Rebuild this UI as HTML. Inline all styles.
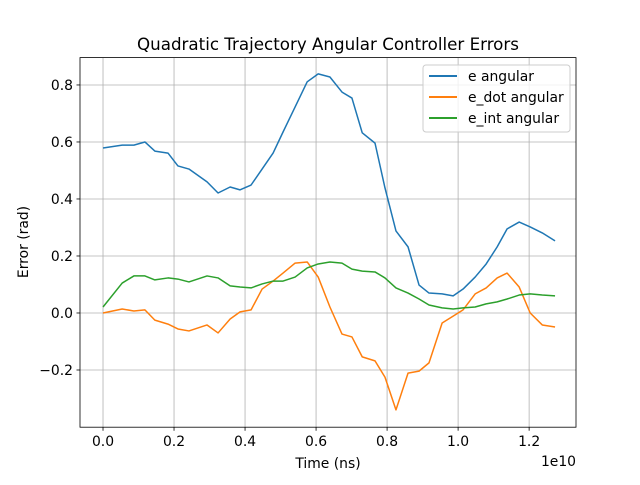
<!DOCTYPE html>
<html><head><meta charset="utf-8"><style>
body{margin:0;background:#fff;}
svg{font-family:"DejaVu Sans","Liberation Sans",sans-serif;}
</style></head><body>
<svg id="chart" width="640" height="480" xmlns="http://www.w3.org/2000/svg">
<rect width="640" height="480" fill="#fff"/>
<text x="328" y="50" text-anchor="middle" font-size="16.7">Quadratic Trajectory Angular Controller Errors</text>
<g id="grid"></g><g id="series"></g><g id="axes"></g>
<text x="328" y="468" text-anchor="middle" font-size="13.9">Time (ns)</text>
<text x="576" y="466" text-anchor="end" font-size="13.9">1e10</text>
<text transform="translate(28,242) rotate(-90)" text-anchor="middle" font-size="13.9">Error (rad)</text>
<g>
<rect x="423" y="65" width="147" height="67" rx="3" fill="#fff" fill-opacity="0.8" stroke="#ccc"/>
<line x1="429" y1="76" x2="457" y2="76" stroke="#1f77b4" stroke-width="2"/>
<text x="468" y="81" font-size="13.9">e angular</text>
<line x1="429" y1="97" x2="457" y2="97" stroke="#ff7f0e" stroke-width="2"/>
<text x="468" y="102" font-size="13.9">e_dot angular</text>
<line x1="429" y1="118" x2="457" y2="118" stroke="#2ca02c" stroke-width="2"/>
<text x="468" y="123" font-size="13.9">e_int angular</text>
</g>
</svg>
<script>
const times=[0.0,0.054,0.087,0.118,0.146,0.183,0.211,0.242,0.293,0.324,0.358,0.386,0.417,0.448,0.479,0.507,0.541,0.575,0.606,0.639,0.673,0.701,0.730,0.766,0.794,0.825,0.859,0.890,0.918,0.955,0.986,1.014,1.048,1.079,1.110,1.138,1.172,1.203,1.237,1.273];
const eAngular=[.579,.589,.589,.600,.568,.561,.516,.505,.460,.421,.442,.432,.449,.505,.561,.635,.723,.811,.839,.828,.775,.754,.632,.596,.439,.288,.232,.098,.070,.067,.060,.084,.126,.172,.232,.295,.319,.302,.281,.253];
const eDot=[0,.014,.007,.011,-.025,-.039,-.056,-.063,-.042,-.070,-.021,.004,.011,.084,.112,.140,.175,.179,.126,.021,-.074,-.084,-.154,-.168,-.225,-.340,-.211,-.204,-.175,-.035,-.011,.011,.067,.088,.123,.140,.091,0,-.042,-.049];
const eInt=[.021,.105,.130,.130,.116,.123,.119,.109,.130,.123,.095,.091,.088,.102,.112,.112,.126,.158,.172,.179,.175,.154,.147,.144,.123,.088,.070,.049,.028,.018,.014,.018,.021,.032,.039,.049,.063,.067,.063,.060];
const xTicks=[0,0.2,0.4,0.6,0.8,1.0,1.2];
const xTickLabels=["0.0","0.2","0.4","0.6","0.8","1.0","1.2"];
const yTicks=[-0.2,0,0.2,0.4,0.6,0.8];
const yTickLabels=["\u22120.2","0.0","0.2","0.4","0.6","0.8"];
const L=80,R=576,T=57.6,B=427.2;
const xmin=-0.0648,xmax=1.332,ymin=-0.4007,ymax=0.896;
const sx=v=>L+(v-xmin)/(xmax-xmin)*(R-L);
const sy=v=>B-(v-ymin)/(ymax-ymin)*(B-T);
const NS="http://www.w3.org/2000/svg";
function mk(tag,attrs,parent){const e=document.createElementNS(NS,tag);for(const k in attrs)e.setAttribute(k,attrs[k]);parent.appendChild(e);return e;}
const grid=document.getElementById('grid'),axes=document.getElementById('axes'),ser=document.getElementById('series');
xTicks.forEach((t,i)=>{const x=sx(t);
 const g=mk('line',{x1:x,x2:x,y1:T,y2:B,stroke:'#b0b0b0','stroke-width':0.8},grid);
 
 
 mk('line',{x1:x,x2:x,y1:B,y2:B+3.5,stroke:'#000','stroke-width':0.8},axes);
 const tx=mk('text',{x:x,y:B+19,'text-anchor':'middle','font-size':13.9},axes);tx.textContent=xTickLabels[i];
 
 
});
yTicks.forEach((t,i)=>{const y=sy(t);
 const g=mk('line',{x1:L,x2:R,y1:y,y2:y,stroke:'#b0b0b0','stroke-width':0.8},grid);
 
 
 mk('line',{x1:L-3.5,x2:L,y1:y,y2:y,stroke:'#000','stroke-width':0.8},axes);
 const tx=mk('text',{x:L-7,y:y+5,'text-anchor':'end','font-size':13.9},axes);tx.textContent=yTickLabels[i];
 
 
});
const frame=mk('rect',{x:L,y:T,width:R-L,height:B-T,fill:'none',stroke:'#000','stroke-width':0.8},axes);


[[eAngular,'#1f77b4','e-angular-line'],[eDot,'#ff7f0e','e-dot-angular-line'],[eInt,'#2ca02c','e-int-angular-line']].forEach(([arr,c,n])=>{
 const p=mk('polyline',{points:arr.map((v,i)=>sx(times[i])+','+sy(v)).join(' '),fill:'none',stroke:c,'stroke-width':1.5,'stroke-linejoin':'round'},ser);
 
 
});
</script>
</body></html>
